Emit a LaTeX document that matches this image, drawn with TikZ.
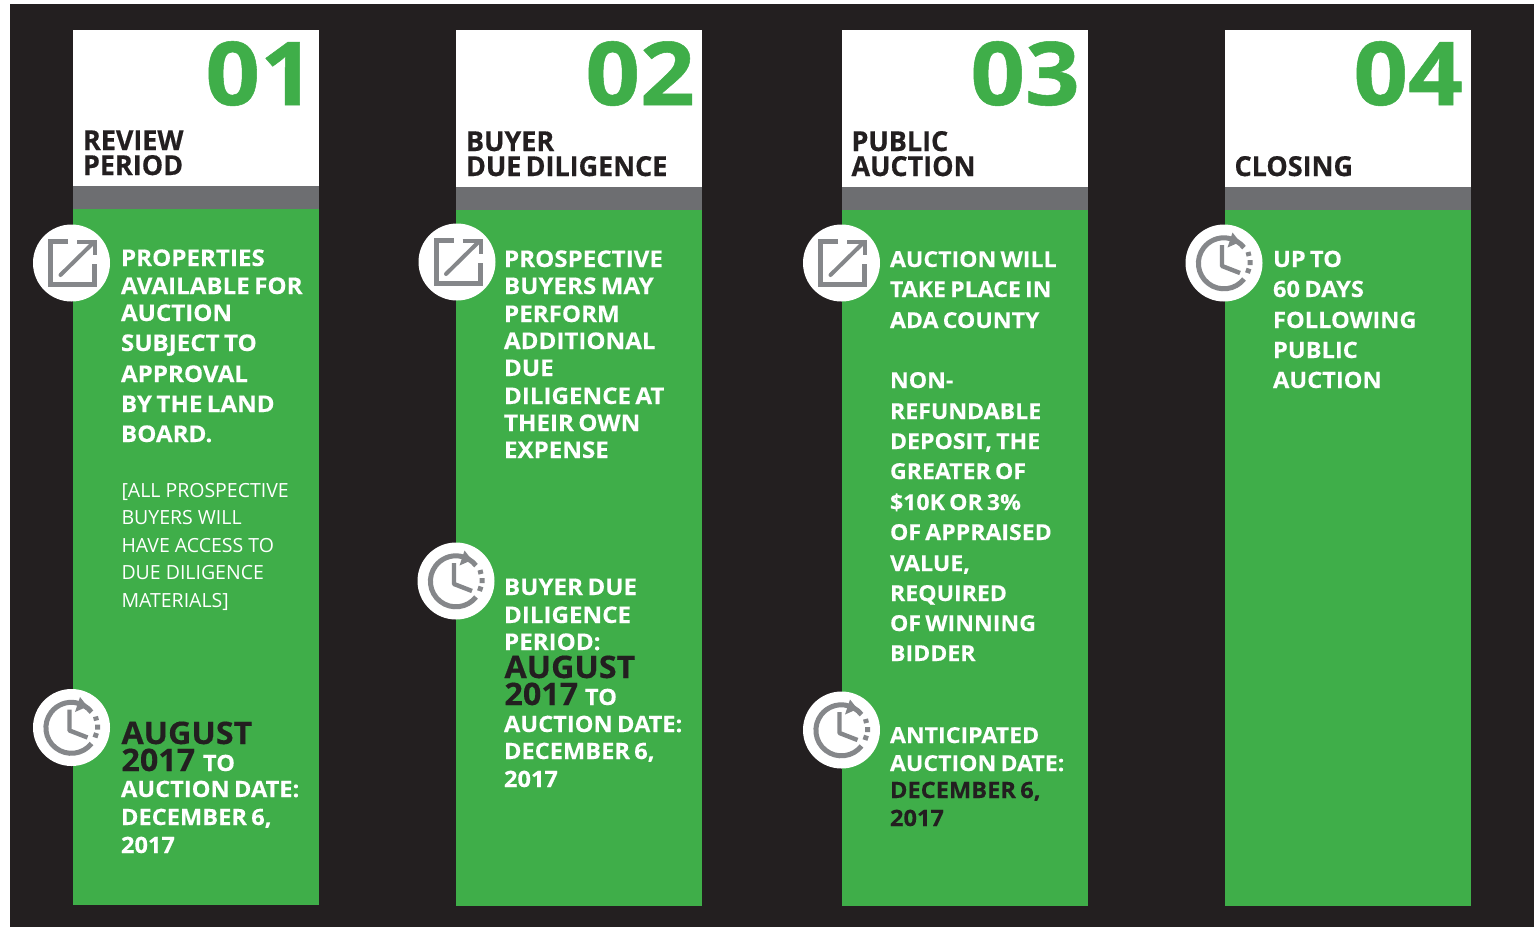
\documentclass[tikz,border=0pt]{standalone}
\usepackage{fontspec}
\setmainfont{Open Sans}
\newfontfamily\bodyfont[FakeStretch=1.05,WordSpace=0.7,FakeBold=0.25,UprightFont=* Bold]{Open Sans}
\newfontfamily\titlefont[FakeStretch=0.98,WordSpace=0.6,FakeBold=0.5,UprightFont=* Bold]{Open Sans}
\newfontfamily\bigfont[FakeStretch=1.04,FakeBold=0.4,UprightFont=* Bold]{Open Sans}
\newfontfamily\numfont[FakeStretch=1.09,FakeBold=0.6,UprightFont=* Bold]{Open Sans}
\definecolor{bgdark}{HTML}{231F20}
\definecolor{pgreen}{HTML}{3FAE49}
\definecolor{pgrey}{HTML}{6D6E71}
\definecolor{icongrey}{HTML}{85878A}
\newcommand{\fs}[1]{\fontsize{#1}{#1}\selectfont}
\tikzset{
  x=1pt,y=-1pt,
  txt/.style={anchor=base west,inner sep=0pt,outer sep=0pt},
  body/.style={txt,text=white,font=\bodyfont\fs{22.5}},
  bodyw/.style={txt,text=white,font=\bodyfont\fs{23}},
  bodyn/.style={txt,text=white,font=\bodyfont\fs{22}},
  thin/.style={txt,text=white,font=\fs{19.5}},
  big/.style={txt,text=bgdark,font=\bigfont\fs{31}},
  title/.style={txt,text=bgdark,font=\titlefont\fs{27.5}},
  num/.style={anchor=base east,inner sep=0pt,text=pgreen,font=\numfont\fs{88}},
  iconline/.style={draw=icongrey,line width=5pt,line join=miter},
  iconcirc/.style={circle,fill=white,draw=none,minimum size=77pt,inner sep=0pt},
}
\newcommand{\column}[4]{%
  \fill[white] (#2,30) rectangle (#3,#4);
  \fill[pgrey] (#2,#4) rectangle (#3,#4+23);
  \fill[pgreen] (#2,#4+23) rectangle (#3,#4+719);
}
\newcommand{\lineset}[4]{%
  \foreach \yy/\tt in {#4}{\node[#2] (#1-\yy) at (#3,\yy) {\tt};}
}
\newcommand{\arrowicon}[3]{%
  \node[iconcirc] (#1) at (#2,#3) {};
  \begin{scope}[shift={(#2,#3)}]
    \draw[iconline] (-3.5,-21.5) -- (-21,-21.5) -- (-21,21.5) -- (23,21.5) -- (23,1);
    \draw[iconline,line width=4pt,line cap=round] (-11,12) -- (21,-19.5);
    \draw[iconline,line width=4pt] (5.5,-21) -- (23.5,-21) -- (23.5,-8);
  \end{scope}
}
\newcommand{\clockicon}[3]{%
  \node[iconcirc] (#1) at (#2,#3) {};
  \begin{scope}[shift={(#2,#3)}]
    \draw[icongrey,line width=5pt] (20,16) arc[start angle=38,end angle=322,radius=25.5,x radius=25.5,y radius=25.5];
    \fill[icongrey] (8.5,-30.5) -- (16,-21) -- (3.5,-15.5) -- cycle;
    \draw[iconline,line width=4.4pt,line join=round] (-2,-18) -- (-2,3) -- (16,10);
    \draw[icongrey,line width=5pt] (24,-11) -- (25,-7) (26,-3) -- (26,2) (25,5.5) -- (23.5,10);
  \end{scope}
}
\begin{document}
\begin{tikzpicture}
\useasboundingbox (0,0) rectangle (1539,927);
\fill[white] (0,0) rectangle (1539,927);
\fill[bgdark] (10,4) rectangle (1534,927);
\column{c1}{73}{319}{186}
\column{c2}{456}{702}{187}
\column{c3}{842}{1088}{187}
\column{c4}{1225}{1471}{187}

\node[num] (n1) at (315,105) {01};
\node[num] (n2) at (695,105) {02};
\node[num] (n3) at (1080,105) {03};
\node[num] (n4) at (1463,105) {04};

\lineset{t1}{title}{83}{150/REVIEW,175/PERIOD}
\lineset{t2}{title}{466}{151/BUYER,176/DUE DILIGENCE}
\lineset{t3}{title}{851.5}{151/PUBLIC,176/AUCTION}
\lineset{t4}{title}{1234.5}{176/CLOSING}

\arrowicon{a1}{71.5}{263}
\clockicon{k1}{71.5}{727.5}
\arrowicon{a2}{457}{262}
\clockicon{k2}{456}{581}
\arrowicon{a3}{841.5}{263}
\clockicon{k3}{841.5}{730}
\clockicon{k4}{1224}{263}

\lineset{b1}{bodyw}{121}{266/PROPERTIES,294/AVAILABLE FOR,321/AUCTION,351/SUBJECT TO,382/APPROVAL,412/BY THE LAND,442/BOARD.}
\lineset{p1}{thin}{121.5}{497/[ALL PROSPECTIVE,524/BUYERS WILL,552/HAVE ACCESS TO,579/DUE DILIGENCE,607/MATERIALS]}
\lineset{g1}{big}{121.5}{744/AUGUST,771/2017}
\node[body] (to1) at (203,771) {TO};
\lineset{d1}{body}{121}{797/AUCTION DATE:,825/{DECEMBER 6,},853/2017}

\lineset{b2}{bodyw}{504}{267/PROSPECTIVE,294/BUYERS MAY,322/PERFORM,349/ADDITIONAL,376/DUE,404/DILIGENCE AT,431/THEIR OWN,458/EXPENSE,595/BUYER DUE,623/DILIGENCE,650/PERIOD:}
\lineset{g2}{big}{504.5}{678/AUGUST,705/2017}
\node[body] (to2) at (585,705) {TO};
\lineset{d2}{body}{504}{732/AUCTION DATE:,759/{DECEMBER 6,},787/2017}

\lineset{b3}{bodyn}{890}{267/AUCTION WILL,297/TAKE PLACE IN,328/ADA COUNTY,388/NON-,419/REFUNDABLE,449/{DEPOSIT, THE},479/GREATER OF,510/\$10K OR 3\%,540/OF APPRAISED,571/{VALUE,},601/REQUIRED,631/OF WINNING,661/BIDDER,743/ANTICIPATED,771/AUCTION DATE:}
\lineset{d3}{bodyn,text=bgdark,font=\bodyfont\fs{22.5}}{890}{798/{DECEMBER 6,},826/2017}

\lineset{b4}{body}{1273}{267/UP TO,297/60 DAYS,328/FOLLOWING,358/PUBLIC,388/AUCTION}
\end{tikzpicture}
\end{document}
